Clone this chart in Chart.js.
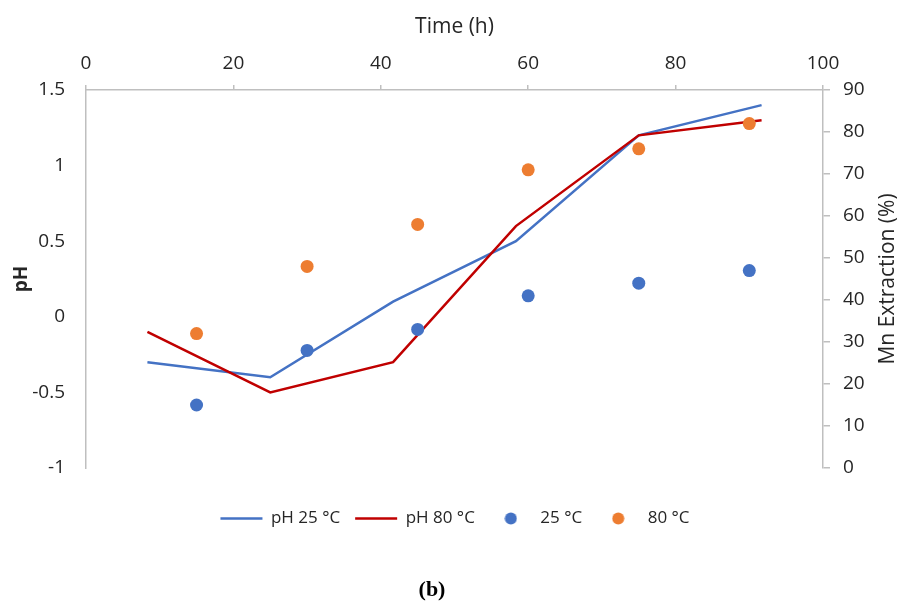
<!DOCTYPE html>
<html>
<head>
<meta charset="utf-8">
<script src="https://cdn.jsdelivr.net/npm/chart.js@4.4.1/dist/chart.umd.min.js"></script>
<style>
  body { margin: 0; background: #fff; }
  #wrap { position: relative; width: 900px; height: 601px; }
</style>
</head>
<body>
<div id="wrap"><canvas id="chart"></canvas></div>
<script>
// pH lines sit on a category axis (6 slots), extraction dots on the time axis
const categories = ['15', '30', '45', '60', '75', '90'];
const ph25 = [-0.3, -0.4, 0.1, 0.5, 1.2, 1.4];
const ph80 = [-0.1, -0.5, -0.3, 0.6, 1.2, 1.3];

const times = [15, 30, 45, 60, 75, 90];
const mn25 = [15, 28, 33, 41, 44, 47];
const mn80 = [32, 48, 58, 71, 76, 82];

const timeTicks = [0, 20, 40, 60, 80, 100];
const phTicks = [-1, -0.5, 0, 0.5, 1, 1.5];
const mnTicks = [0, 10, 20, 30, 40, 50, 60, 70, 80, 90];

const BLUE = '#4472C4';
const RED = '#C00000';
const ORANGE = '#ED7D31';
const AXIS = '#BFBFBF';
const TEXT = '#262626';

function dotImage(color) {
    const c = document.createElement('canvas');
    c.width = 13; c.height = 13;
    const g = c.getContext('2d');
    g.fillStyle = color;
    g.beginPath();
    g.arc(6.5, 6.5, 6, 0, Math.PI * 2);
    g.fill();
    return c;
}

const extraText = {
    id: 'extraText',
    afterDraw(chart) {
        const ctx = chart.ctx;
        const area = chart.chartArea;
        const y2 = chart.scales.y2;
        ctx.save();
        ctx.fillStyle = TEXT;
        ctx.font = '21px "Open Sans"';
        ctx.textAlign = 'center';
        ctx.textBaseline = 'middle';
        ctx.translate(y2.right - 12, (area.top + area.bottom) / 2);
        ctx.rotate(-Math.PI / 2);
        ctx.fillText('Mn Extraction (%)', 0, 0);
        ctx.restore();

        ctx.save();
        ctx.fillStyle = '#000';
        ctx.font = 'bold 22px "Liberation Serif"';
        ctx.textAlign = 'center';
        ctx.textBaseline = 'middle';
        ctx.fillText('(b)', 432, 590);
        ctx.restore();
    }
};

const dots = { 2: dotImage(BLUE), 3: dotImage(ORANGE) };
const tickFont = { family: 'Open Sans', size: 19 };

new Chart(document.getElementById('chart'), {
    type: 'line',
    data: {
        labels: categories,
        datasets: [
            {
                label: 'pH 25 °C', data: ph25, xAxisID: 'x', yAxisID: 'y',
                borderColor: BLUE, backgroundColor: BLUE, borderWidth: 2.5,
                pointRadius: 0, tension: 0, order: 2
            },
            {
                label: 'pH 80 °C', data: ph80, xAxisID: 'x', yAxisID: 'y',
                borderColor: RED, backgroundColor: RED, borderWidth: 2.5,
                pointRadius: 0, tension: 0, order: 1
            },
            {
                type: 'scatter', label: '25 °C',
                data: times.map((t, i) => ({ x: t, y: mn25[i] })),
                xAxisID: 'x2', yAxisID: 'y2',
                backgroundColor: BLUE, borderWidth: 0, pointRadius: 6.5, order: 0
            },
            {
                type: 'scatter', label: '80 °C',
                data: times.map((t, i) => ({ x: t, y: mn80[i] })),
                xAxisID: 'x2', yAxisID: 'y2',
                backgroundColor: ORANGE, borderWidth: 0, pointRadius: 6.5, order: 0
            }
        ]
    },
    options: {
        responsive: true,
        maintainAspectRatio: false,
        animation: false,
        events: [],
        layout: { padding: { left: 10, right: 0, top: 0, bottom: 64 } },
        plugins: {
            tooltip: { enabled: false },
            legend: {
                position: 'bottom',
                labels: {
                    usePointStyle: true,
                    pointStyleWidth: 42,
                    padding: 15,
                    color: TEXT,
                    font: { family: 'Open Sans', size: 17 },
                    generateLabels(chart) {
                        return chart.data.datasets.map((ds, i) => ({
                            text: ds.label,
                            datasetIndex: i,
                            hidden: false,
                            fontColor: TEXT,
                            strokeStyle: ds.type === 'scatter' ? 'transparent' : ds.borderColor,
                            fillStyle: ds.backgroundColor,
                            lineWidth: ds.type === 'scatter' ? 0 : 2.5,
                            pointStyle: ds.type === 'scatter' ? dots[i] : 'line'
                        }));
                    }
                }
            }
        },
        scales: {
            x: {
                type: 'category',
                position: 'bottom',
                offset: true,
                ticks: { display: false },
                grid: { display: false },
                border: { display: false },
                afterFit(s) { s.height = 27; }
            },
            x2: {
                type: 'linear',
                position: 'top',
                min: 0, max: 100,
                afterBuildTicks(s) { s.ticks = timeTicks.map(v => ({ value: v })); },
                ticks: { color: TEXT, font: tickFont, padding: 10, maxRotation: 0, callback: v => String(v) },
                grid: { drawOnChartArea: false, drawTicks: true, tickLength: 5, color: AXIS, lineWidth: 1.5 },
                border: { display: true, color: AXIS, width: 1.5 },
                title: {
                    display: true, text: 'Time (h)', color: TEXT,
                    font: { family: 'Open Sans', size: 21 }, padding: { top: 14, bottom: 0 }
                },
                afterFit(s) { s.height = 90; }
            },
            y: {
                type: 'linear',
                position: 'left',
                min: -1, max: 1.5,
                afterBuildTicks(s) { s.ticks = phTicks.map(v => ({ value: v })); },
                ticks: { color: TEXT, font: tickFont, padding: 21, callback: v => String(v) },
                grid: { display: false, drawTicks: false },
                border: { display: true, color: AXIS, width: 1.5 },
                title: {
                    display: true, text: 'pH', color: TEXT,
                    font: { family: 'Open Sans', size: 19, weight: 'bold' }, padding: { top: 0, bottom: 0 }
                },
                afterFit(s) { s.width = 76; }
            },
            y2: {
                type: 'linear',
                position: 'right',
                min: 0, max: 90,
                afterBuildTicks(s) { s.ticks = mnTicks.map(v => ({ value: v })); },
                ticks: { color: TEXT, font: tickFont, padding: 13, callback: v => String(v) },
                grid: { drawOnChartArea: false, drawTicks: true, tickLength: 7, color: AXIS, lineWidth: 1.5 },
                border: { display: true, color: AXIS, width: 1.5 },
                afterFit(s) { s.width = 77; }
            }
        }
    },
    plugins: [extraText]
});
</script>
</body>
</html>
